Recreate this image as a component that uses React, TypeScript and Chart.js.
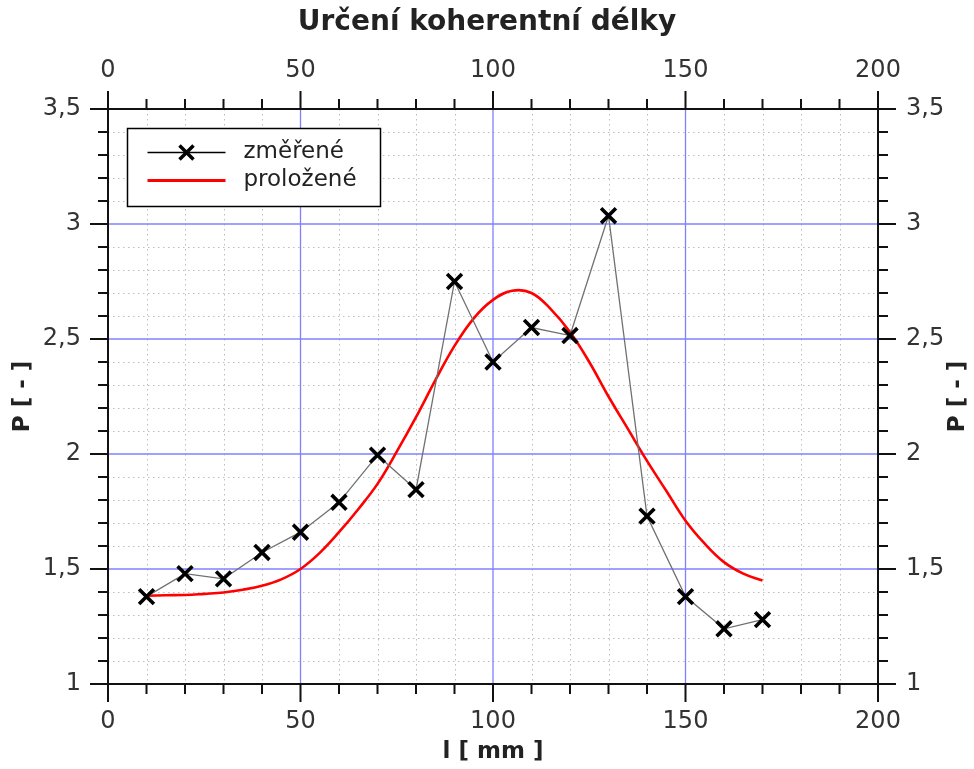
import React, { useEffect, useRef } from 'react';
import { Chart, registerables } from 'chart.js';

Chart.register(...registerables);

// ---- text ----
const chartTitle = 'Určení koherentní délky';
const xAxisTitle = 'l [ mm ]';
const yAxisTitle = 'P [ - ]';
const measuredLabel = 'změřené';
const fittedLabel = 'proložené';

// ---- data ----
const measuredL = [10, 20, 30, 40, 50, 60, 70, 80, 90, 100, 110, 120, 130, 140, 150, 160, 170];
const measuredP = [1.38, 1.48, 1.457, 1.572, 1.66, 1.79, 1.995, 1.845, 2.75, 2.40, 2.55, 2.515, 3.036, 1.73, 1.38, 1.24, 1.28];

const fittedL = [10, 15, 20, 25, 30, 35, 40, 45, 50, 55, 60, 65, 70, 75, 80, 85, 90, 95, 100, 105, 110, 115, 120, 125, 130, 135, 140, 145, 150, 155, 160, 165, 170];
const fittedP = [1.384, 1.386, 1.387, 1.392, 1.398, 1.41, 1.427, 1.455, 1.50, 1.57, 1.66, 1.76, 1.87, 2.01, 2.16, 2.32, 2.47, 2.59, 2.67, 2.71, 2.70, 2.63, 2.53, 2.40, 2.25, 2.11, 1.97, 1.84, 1.71, 1.61, 1.53, 1.48, 1.45];

// ---- axes ----
const xMin = 0;
const xMax = 200;
const xMajorStep = 50;
const xMinorStep = 10;
const yMin = 1;
const yMax = 3.5;
const yMajorStep = 0.5;
const yMinorStep = 0.1;

const FONT = "'DejaVu Sans', 'Noto Sans', sans-serif";
const fmtTick = (v: number | string) => String(v).replace('.', ',');

const frameAndDecor = {
  id: 'frameAndDecor',
  beforeDatasetsDraw(chart: any) {
    const { ctx, chartArea: a, scales } = chart;
    const xs = scales.x;
    const ys = scales.y;
    ctx.save();
    // minor dotted grid
    ctx.strokeStyle = '#bdbdbd';
    ctx.lineWidth = 1;
    ctx.setLineDash([1.5, 3.5]);
    const nx = Math.round((xMax - xMin) / xMinorStep);
    for (let i = 1; i < nx; i++) {
      const v = xMin + i * xMinorStep;
      if (Math.abs(v / xMajorStep - Math.round(v / xMajorStep)) < 1e-6) continue;
      const px = Math.round(xs.getPixelForValue(v)) + 0.5;
      ctx.beginPath();
      ctx.moveTo(px, a.top);
      ctx.lineTo(px, a.bottom);
      ctx.stroke();
    }
    const ny = Math.round((yMax - yMin) / yMinorStep);
    for (let j = 1; j < ny; j++) {
      const v = yMin + j * yMinorStep;
      if (Math.abs(v / yMajorStep - Math.round(v / yMajorStep)) < 1e-6) continue;
      const py = Math.round(ys.getPixelForValue(v)) + 0.5;
      ctx.beginPath();
      ctx.moveTo(a.left, py);
      ctx.lineTo(a.right, py);
      ctx.stroke();
    }
    // major blue grid
    ctx.setLineDash([]);
    ctx.strokeStyle = '#8080ff';
    ctx.lineWidth = 1.3;
    const mx = Math.round((xMax - xMin) / xMajorStep);
    for (let i = 1; i < mx; i++) {
      const px = xs.getPixelForValue(xMin + i * xMajorStep);
      ctx.beginPath();
      ctx.moveTo(px, a.top);
      ctx.lineTo(px, a.bottom);
      ctx.stroke();
    }
    const my = Math.round((yMax - yMin) / yMajorStep);
    for (let j = 1; j < my; j++) {
      const py = ys.getPixelForValue(yMin + j * yMajorStep);
      ctx.beginPath();
      ctx.moveTo(a.left, py);
      ctx.lineTo(a.right, py);
      ctx.stroke();
    }
    ctx.restore();
  },
  afterDraw(chart: any) {
    const { ctx, chartArea: a, scales } = chart;
    const xs = scales.x;
    const ys = scales.y;
    ctx.save();
    // ticks
    ctx.strokeStyle = '#111';
    ctx.lineWidth = 2;
    const majorLen = 18;
    const minorLen = 10;
    const nx = Math.round((xMax - xMin) / xMinorStep);
    for (let i = 0; i <= nx; i++) {
      const v = xMin + i * xMinorStep;
      const isMajor = Math.abs(v / xMajorStep - Math.round(v / xMajorStep)) < 1e-6;
      const len = isMajor ? majorLen : minorLen;
      const px = xs.getPixelForValue(v);
      ctx.beginPath();
      ctx.moveTo(px, a.bottom);
      ctx.lineTo(px, a.bottom + len);
      ctx.moveTo(px, a.top);
      ctx.lineTo(px, a.top - len);
      ctx.stroke();
    }
    const ny = Math.round((yMax - yMin) / yMinorStep);
    for (let j = 0; j <= ny; j++) {
      const v = yMin + j * yMinorStep;
      const isMajor = Math.abs(v / yMajorStep - Math.round(v / yMajorStep)) < 1e-6;
      const len = isMajor ? majorLen : minorLen;
      const py = ys.getPixelForValue(v);
      ctx.beginPath();
      ctx.moveTo(a.left, py);
      ctx.lineTo(a.left - len, py);
      ctx.moveTo(a.right, py);
      ctx.lineTo(a.right + len, py);
      ctx.stroke();
    }
    // frame
    ctx.strokeStyle = '#111';
    ctx.lineWidth = 2;
    ctx.strokeRect(a.left, a.top, a.right - a.left, a.bottom - a.top);

    // right axis title (reads bottom to top like the left one)
    ctx.fillStyle = '#222';
    ctx.font = `bold 23px ${FONT}`;
    ctx.textAlign = 'center';
    ctx.textBaseline = 'middle';
    ctx.translate(958, (a.top + a.bottom) / 2);
    ctx.rotate(-Math.PI / 2);
    ctx.fillText(yAxisTitle, 0, 0);
    ctx.setTransform(1, 0, 0, 1, 0, 0);

    // legend inside plot area
    const ds = chart.data.datasets;
    const bx = a.left + 19.5;
    const by = a.top + 19.5;
    const bw = 253;
    const bh = 78;
    ctx.fillStyle = '#fff';
    ctx.fillRect(bx, by, bw, bh);
    ctx.strokeStyle = '#000';
    ctx.lineWidth = 1.5;
    ctx.strokeRect(bx, by, bw, bh);
    const rows = [by + 24, by + 52];
    const lx0 = bx + 20;
    const lx1 = bx + 98;
    ctx.font = `23px ${FONT}`;
    ctx.textAlign = 'left';
    ctx.textBaseline = 'middle';
    ds.forEach((d: any, i: number) => {
      const ry = rows[i];
      ctx.strokeStyle = i === 0 ? '#000' : d.borderColor;
      ctx.lineWidth = i === 0 ? 1.3 : 3;
      ctx.beginPath();
      ctx.moveTo(lx0, ry);
      ctx.lineTo(lx1, ry);
      ctx.stroke();
      if (i === 0) {
        const cx = (lx0 + lx1) / 2;
        const r = 7;
        ctx.strokeStyle = '#000';
        ctx.lineWidth = 3.5;
        ctx.beginPath();
        ctx.moveTo(cx - r, ry - r);
        ctx.lineTo(cx + r, ry + r);
        ctx.moveTo(cx + r, ry - r);
        ctx.lineTo(cx - r, ry + r);
        ctx.stroke();
      }
      ctx.fillStyle = '#222';
      ctx.fillText(d.label, bx + 116, ry);
    });
    ctx.restore();
  },
};

export default function App() {
  const ref = useRef<HTMLCanvasElement | null>(null);
  useEffect(() => {
    if (!ref.current) return;
    const tickFont = { family: FONT, size: 24 };
    const chart = new Chart(ref.current, {
      type: 'scatter',
      data: {
        datasets: [
          {
            label: measuredLabel,
            data: measuredL.map((x, i) => ({ x, y: measuredP[i] })),
            showLine: true,
            borderColor: '#707070',
            borderWidth: 1.3,
            pointStyle: 'crossRot',
            pointRadius: 10.5,
            pointBorderWidth: 3.6,
            pointBorderColor: '#000',
            pointBackgroundColor: '#000',
            tension: 0,
          },
          {
            label: fittedLabel,
            data: fittedL.map((x, i) => ({ x, y: fittedP[i] })),
            showLine: true,
            borderColor: '#ff0000',
            borderWidth: 2.6,
            pointRadius: 0,
            tension: 0.4,
          },
        ],
      },
      options: {
        responsive: false,
        animation: false,
        devicePixelRatio: 1,
        layout: { padding: 0 },
        plugins: {
          legend: { display: false },
          tooltip: { enabled: false },
          title: {
            display: true,
            text: chartTitle,
            color: '#222',
            font: { family: FONT, size: 28, weight: 'bold' },
            padding: { top: 6, bottom: 0 },
          },
        },
        scales: {
          x: {
            type: 'linear',
            position: 'bottom',
            min: xMin,
            max: xMax,
            ticks: { stepSize: xMajorStep, font: tickFont, color: '#333', padding: 5, maxRotation: 0 },
            grid: { display: false, drawTicks: true, tickLength: 18 },
            border: { display: false },
            title: {
              display: true,
              text: xAxisTitle,
              color: '#222',
              font: { family: FONT, size: 23, weight: 'bold' },
              padding: { top: 0, bottom: 3 },
            },
            afterFit: (s: any) => { s.height = 85; },
          },
          x2: {
            type: 'linear',
            position: 'top',
            min: xMin,
            max: xMax,
            ticks: { stepSize: xMajorStep, font: tickFont, color: '#333', padding: 6, maxRotation: 0 },
            grid: { display: false, drawTicks: true, tickLength: 18 },
            border: { display: false },
            afterFit: (s: any) => { s.height = 69.4; },
          },
          y: {
            type: 'linear',
            position: 'left',
            min: yMin,
            max: yMax,
            ticks: { stepSize: yMajorStep, font: tickFont, color: '#333', padding: 9, callback: (v: any) => fmtTick(v) },
            grid: { display: false, drawTicks: true, tickLength: 18 },
            border: { display: false },
            title: {
              display: true,
              text: yAxisTitle,
              color: '#222',
              font: { family: FONT, size: 23, weight: 'bold' },
              padding: { top: 9, bottom: 0 },
            },
            afterFit: (s: any) => { s.width = 108; },
          },
          y2: {
            type: 'linear',
            position: 'right',
            min: yMin,
            max: yMax,
            ticks: { stepSize: yMajorStep, font: tickFont, color: '#333', padding: 10, callback: (v: any) => fmtTick(v) },
            grid: { display: false, drawTicks: true, tickLength: 18 },
            border: { display: false },
            afterFit: (s: any) => { s.width = 96; },
          },
        },
      },
      plugins: [frameAndDecor],
    } as any);
    return () => chart.destroy();
  }, []);
  return (
    <div style={{ position: 'absolute', left: 0, top: 0, width: 974, height: 769, background: '#fff' }}>
      <canvas ref={ref} width={974} height={769} style={{ display: 'block', width: 974, height: 769 }} />
    </div>
  );
}
